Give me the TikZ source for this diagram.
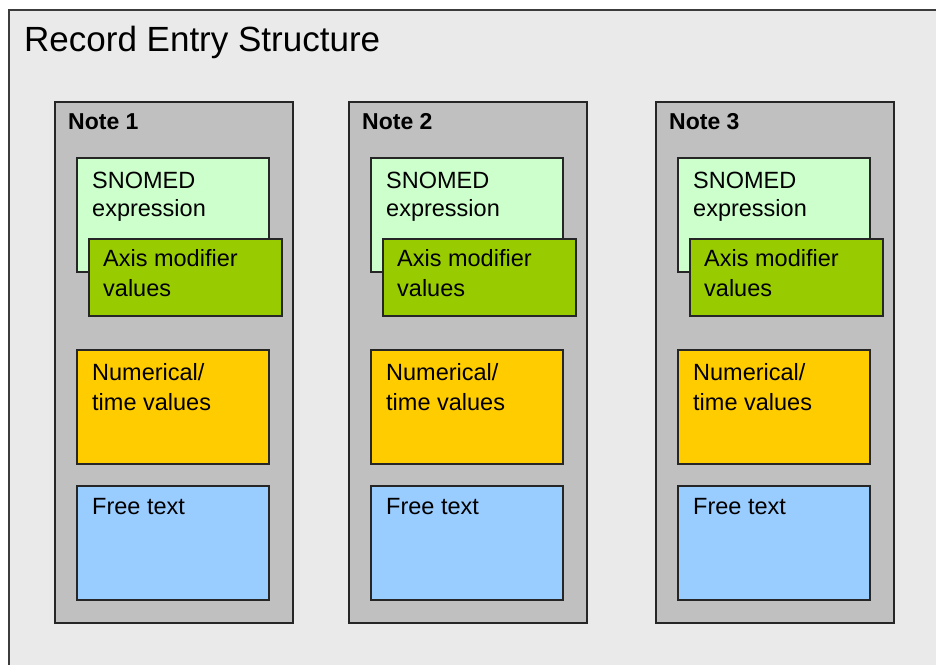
\documentclass[tikz,border=0pt]{standalone}
\usepackage{fontspec}
\setmainfont{Liberation Sans}
\definecolor{bgc}{HTML}{EAEAEA}
\definecolor{notec}{HTML}{C0C0C0}
\definecolor{snomedc}{HTML}{CCFFCC}
\definecolor{axisc}{HTML}{99CC00}
\definecolor{numc}{HTML}{FFCC00}
\definecolor{freec}{HTML}{99CCFF}
\definecolor{edgec}{HTML}{262626}
\tikzset{
  box/.style={draw=edgec, line width=1.6pt, rectangle, inner sep=0pt, anchor=north west},
  lbl/.style={anchor=north west, inner sep=0pt, align=left, text=black},
  bodytxt/.style={lbl, font=\fontsize{23.5}{30}\selectfont},
}
\begin{document}
\begin{tikzpicture}[x=1pt,y=-1pt]
\useasboundingbox (0,0) rectangle (936,664);
\clip (0,0) rectangle (936,664);
\fill[white] (0,0) rectangle (936,664);
\node[box, fill=bgc, line width=2pt, draw=edgec!90, minimum width=1000pt, minimum height=700pt] (frame) at (8,9) {};
\node[lbl, font=\fontsize{35}{40}\selectfont] (title) at (24,26) {Record Entry Structure};
\foreach \i/\dx in {1/0,2/294,3/601}{
  \begin{scope}[xshift=\dx pt]
    \node[box, fill=notec, minimum width=238pt, minimum height=521pt] (n\i) at (54,101) {};
    \node[lbl, font=\bfseries\fontsize{23}{28}\selectfont] (nt\i) at (68,113) {Note \i};
    \node[box, fill=snomedc, minimum width=192pt, minimum height=114pt] (s\i) at (76,157) {};
    \node[bodytxt, font=\fontsize{23.5}{27.5}\selectfont] (st\i) at (92,172) {SNOMED\\expression};
    \node[box, fill=axisc, minimum width=193pt, minimum height=77pt] (a\i) at (88,238) {};
    \node[bodytxt] (at\i) at (103,249) {Axis modifier\\values};
    \node[box, fill=numc, minimum width=192pt, minimum height=114pt] (m\i) at (76,349) {};
    \node[bodytxt] (mt\i) at (92,363.5) {Numerical/\\time values};
    \node[box, fill=freec, minimum width=192pt, minimum height=114pt] (f\i) at (76,485) {};
    \node[bodytxt] (ft\i) at (92,498.5) {Free text};
  \end{scope}
}
\end{tikzpicture}
\end{document}
